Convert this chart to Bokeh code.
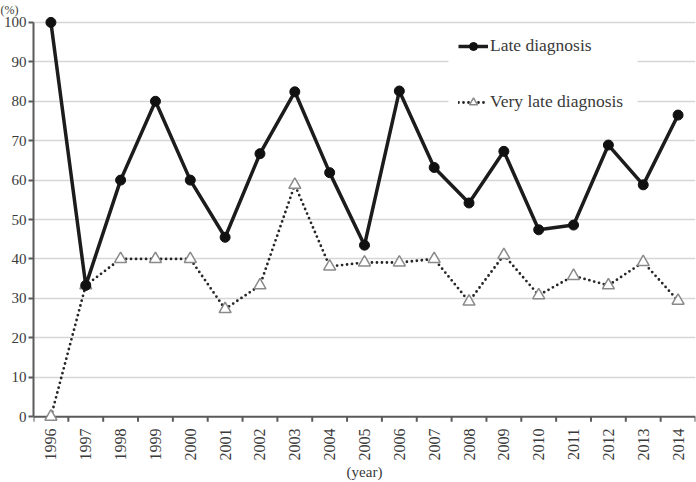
from math import pi

from bokeh.embed import file_html
from bokeh.models import (BoxAnnotation, FixedTicker, Legend, LegendItem,
                          Range1d)
from bokeh.plotting import figure
from bokeh.resources import INLINE

# Share of diagnoses per year (%)
years = list(range(1996, 2015))
late = [100, 33.3, 60, 80, 60, 45.5, 66.7, 82.4, 61.9, 43.5,
        82.6, 63.2, 54.2, 67.3, 47.4, 48.6, 68.9, 58.8, 76.5]
very_late = [0, 33.3, 40, 40, 40, 27.3, 33.3, 58.8, 38.1, 39.1,
             39.1, 40, 29.2, 41.0, 30.8, 35.7, 33.3, 39.2, 29.4]
y_ticks = list(range(0, 101, 10))
year_edges = [y - 0.5 for y in years] + [years[-1] + 0.5]

FONT = "Liberation Serif"
TEXT = "#3a3a3a"
AXIS = "#5a5a5a"

# some room above 100 and below 0 so the end markers are not clipped
p = figure(width=696, height=482, title="(%)",
           x_range=Range1d(year_edges[0], year_edges[-1]),
           y_range=Range1d(-3, 101.5),
           output_backend="svg", toolbar_location=None,
           min_border_left=33, min_border_right=1,
           min_border_top=15, min_border_bottom=54)
p.outline_line_color = None
p.background_fill_color = "white"

p.title.text_font = FONT
p.title.text_font_size = "12px"
p.title.text_font_style = "normal"
p.title.text_color = TEXT
p.title.align = "left"
p.title.standoff = 0
p.title.offset = -33

# y axis
p.yaxis.ticker = FixedTicker(ticks=y_ticks)
p.yaxis.bounds = (0, 100)
p.yaxis.axis_line_color = AXIS
p.yaxis.axis_line_width = 2
p.yaxis.major_tick_line_color = AXIS
p.yaxis.major_tick_line_width = 2
p.yaxis.major_tick_out = 5
p.yaxis.major_tick_in = 0
p.yaxis.minor_tick_line_color = None
p.yaxis.major_label_standoff = 2
p.yaxis.major_label_text_font = FONT
p.yaxis.major_label_text_font_size = "15px"
p.yaxis.major_label_text_color = TEXT

# x axis: year labels only; its line and the between-category ticks sit on y = 0
p.xaxis.ticker = FixedTicker(ticks=years)
p.xaxis.axis_line_color = None
p.xaxis.major_tick_line_color = None
p.xaxis.minor_tick_line_color = None
p.xaxis.major_tick_out = 0
p.xaxis.major_tick_in = 0
p.xaxis.major_label_orientation = pi / 2
p.xaxis.major_label_standoff = 0
p.xaxis.major_label_text_font = FONT
p.xaxis.major_label_text_font_size = "16px"
p.xaxis.major_label_text_color = TEXT
p.xaxis.axis_label = "(year)"
p.xaxis.axis_label_standoff = 0
p.xaxis.axis_label_text_font = FONT
p.xaxis.axis_label_text_font_size = "15px"
p.xaxis.axis_label_text_font_style = "normal"
p.xaxis.axis_label_text_color = TEXT

p.xgrid.grid_line_color = None
p.ygrid.ticker = FixedTicker(ticks=y_ticks[1:])
p.ygrid.grid_line_color = "#d6d6d6"
p.ygrid.grid_line_width = 1.5

tick_len = 5 / 3.95  # 5 px in data units
p.segment(x0=year_edges, x1=year_edges, y0=[0] * len(year_edges),
          y1=[-tick_len] * len(year_edges), line_color=AXIS, line_width=2)
p.segment(x0=[year_edges[0]], x1=[year_edges[-1]], y0=[0], y1=[0],
          line_color=AXIS, line_width=2)

# series
vl_line = p.line(years, very_late, line_color="#262626", line_width=2.8,
                 line_dash="0 5", line_cap="round")
vl_pts = p.scatter(years, very_late, marker="triangle", size=12,
                   fill_color="white", line_color="#8a8a8a", line_width=1.5)
l_line = p.line(years, late, line_color="#1c1c1c", line_width=3.5)
l_pts = p.scatter(years, late, marker="circle", size=10,
                  fill_color="#111111", line_color="#111111")

# white panel behind the legend
p.add_layout(BoxAnnotation(left=415, right=604, bottom=313, top=398,
                           left_units="screen", right_units="screen",
                           bottom_units="screen", top_units="screen",
                           fill_color="white", fill_alpha=1,
                           line_color=None))

legend = Legend(items=[
    LegendItem(label="Late diagnosis", renderers=[l_line, l_pts]),
    LegendItem(label="Very late diagnosis", renderers=[vl_line, vl_pts]),
], location=(425, 316))
legend.background_fill_color = "white"
legend.background_fill_alpha = 1
legend.border_line_color = None
legend.label_text_font = FONT
legend.label_text_font_size = "17.5px"
legend.label_text_color = TEXT
legend.glyph_width = 30
legend.glyph_height = 20
legend.label_height = 20
legend.label_width = 134
legend.label_standoff = 2
legend.spacing = 35
legend.padding = 12
legend.margin = 0
p.add_layout(legend)

open("out.html", "w").write(file_html(p, INLINE))
